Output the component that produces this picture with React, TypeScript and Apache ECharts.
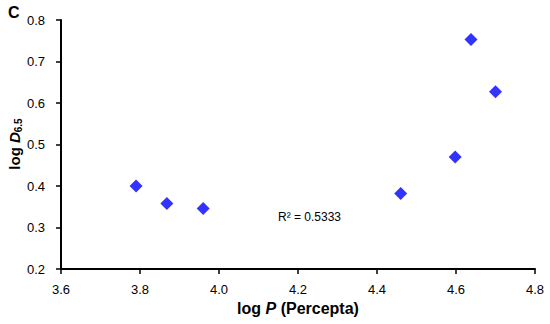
import React, { useEffect, useRef } from "react";
import * as echarts from "echarts";

const logP: number[] = [3.79, 3.868, 3.96, 4.46, 4.598, 4.638, 4.7];
const logD: number[] = [0.4, 0.358, 0.346, 0.382, 0.47, 0.753, 0.627];
const xTicks = { min: 3.6, max: 4.8, interval: 0.2 };
const yTicks = { min: 0.2, max: 0.8, interval: 0.1 };
const rSquaredLabel = "R\u00B2 = 0.5333";
const panelLabel = "C";
const yTitle = "{n|log }{i|D}{s|6.5}";

export default function App() {
  const ref = useRef<HTMLDivElement>(null);
  useEffect(() => {
    if (!ref.current) return;
    const chart = echarts.init(ref.current, undefined, { renderer: "svg" });
    const font = "'Liberation Sans', Arial, sans-serif";
    chart.setOption({
      animation: false,
      backgroundColor: "#ffffff",
      textStyle: { fontFamily: font },
      grid: { left: 61, right: 15, top: 20, bottom: 55, containLabel: false, outerBoundsMode: "none" },
      xAxis: {
        type: "value",
        min: xTicks.min,
        max: xTicks.max,
        interval: xTicks.interval,
        name: "{n|log }{i|P}{n| (Percepta)}",
        nameLocation: "middle",
        nameGap: 28,
        nameTextStyle: {
          rich: {
            n: { fontSize: 16, fontWeight: "bold", color: "#000", fontFamily: font },
            i: { fontSize: 16, fontWeight: "bold", fontStyle: "italic", color: "#000", fontFamily: font },
          },
        },
        axisLine: { show: true, onZero: false, lineStyle: { color: "#000", width: 2 } },
        axisTick: { show: true, inside: false, length: 5, lineStyle: { color: "#000", width: 1.5 } },
        axisLabel: {
          color: "#000",
          fontSize: 13,
          margin: 14,
          fontFamily: font,
          formatter: (v: number) => v.toFixed(1),
        },
        splitLine: { show: false },
      },
      yAxis: {
        type: "value",
        min: yTicks.min,
        max: yTicks.max,
        interval: yTicks.interval,
        axisLine: { show: true, onZero: false, lineStyle: { color: "#000", width: 2 } },
        axisTick: { show: true, inside: false, length: 5, lineStyle: { color: "#000", width: 1.5 } },
        axisLabel: {
          color: "#000",
          fontSize: 13,
          margin: 16,
          fontFamily: font,
          formatter: (v: number) => v.toFixed(1),
        },
        splitLine: { show: false },
      },
      graphic: [
        {
          type: "text",
          left: 8,
          top: 4,
          style: { text: panelLabel, fontSize: 16, fontWeight: "bold", fill: "#000", fontFamily: font },
        },
        {
          type: "text",
          x: 14,
          y: 144,
          rotation: Math.PI / 2,
          style: {
            text: yTitle,
            align: "center",
            verticalAlign: "middle",
            rich: {
              n: { fontSize: 15, fontWeight: "bold", fill: "#000", fontFamily: font, lineHeight: 18 },
              i: { fontSize: 15, fontWeight: "bold", fontStyle: "italic", fill: "#000", fontFamily: font, lineHeight: 18 },
              s: { fontSize: 10, fontWeight: "bold", fill: "#000", fontFamily: font, lineHeight: 18, verticalAlign: "bottom" },
            },
          },
        },
        {
          type: "text",
          left: 278,
          top: 211,
          style: { text: rSquaredLabel, fontSize: 12, fill: "#000", fontFamily: font },
        },
      ],
      series: [
        {
          type: "scatter",
          symbol: "diamond",
          symbolSize: 13,
          itemStyle: { color: "#0000ff" },
          data: logP.map((x, i) => [x, logD[i]]),
        },
      ],
    });
    return () => chart.dispose();
  }, []);
  return <div ref={ref} style={{ width: 550, height: 324, position: "absolute", left: 0, top: 0 }} />;
}
